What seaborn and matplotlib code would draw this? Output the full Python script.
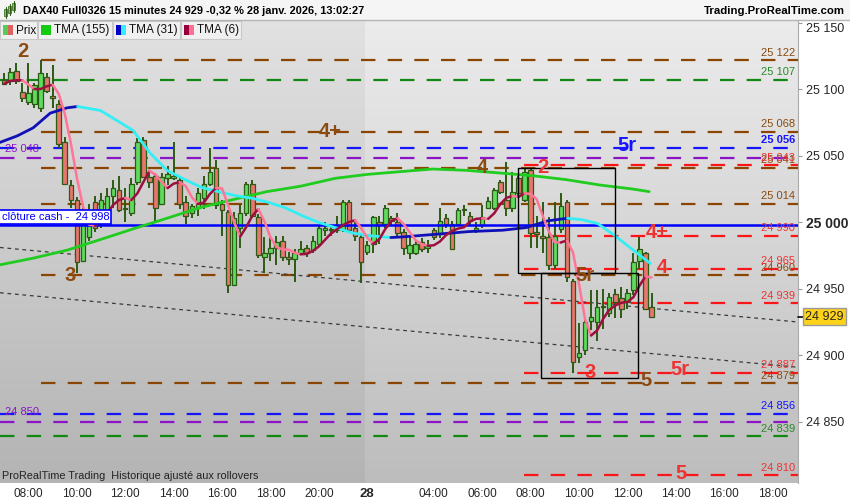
import matplotlib

matplotlib.use("Agg")
import matplotlib.pyplot as plt
import matplotlib.transforms as mtransforms
import numpy as np
import pandas as pd
import seaborn as sns
from matplotlib.patches import Rectangle

# --------------------------------------------------------------------- #
# Data (15 min bars, bar 0 = 08:00 on the 27th)
# --------------------------------------------------------------------- #
FIRST_BAR = -4
OPEN = [25107, 25106, 25114, 25098, 25090, 25089, 25086, 25109, 25095, 25089,
        25060, 25028, 25017, 24971, 24989, 25015, 25000, 25004, 25020, 25024,
        25010, 25007, 25030, 25062, 25034, 25035, 25014, 25033, 25033, 25032,
        25015, 25007, 25011, 25018, 25029, 25041, 25014, 25008, 24953, 24996,
        25007, 25029, 25004, 24974, 24977, 24981, 24986, 24974, 24972, 24977,
        24981, 24979, 24984, 24994, 24995, 24994, 24994, 25015, 24996, 24989,
        24978, 24984, 25000, 24999, 25003, 25000, 24993, 24977, 24977, 24985,
        24981, 24994, 24991, 25003, 24999, 24999, 25009, 25005, 24994, 24998,
        25011, 25011, 25030, 25017, 25011, 25033, 25017, 25039, 24993, 24990,
        24989, 24968, 24995, 25015, 24956, 24899, 24904, 24926, 24925, 24936,
        24932, 24946, 24943, 24940, 24949, 24971, 24977, 24936]
HIGH = [25112, 25116, 25120, 25105, 25120, 25105, 25122, 25112, 25118, 25092,
        25064, 25032, 25019, 25014, 25014, 25020, 25022, 25026, 25032, 25035,
        25026, 25033, 25063, 25064, 25038, 25037, 25037, 25042, 25060, 25035,
        25020, 25014, 25026, 25035, 25056, 25047, 25017, 25009, 25008, 25013,
        25030, 25032, 25006, 24989, 24988, 24990, 24990, 24978, 24980, 24986,
        24983, 24990, 24998, 25000, 24998, 25005, 25017, 25017, 25000, 24992,
        24986, 25005, 25005, 25013, 25005, 25007, 24995, 24990, 24986, 24988,
        24987, 24996, 25011, 25006, 25001, 25011, 25013, 25008, 25000, 25013,
        25019, 25026, 25032, 25045, 25038, 25035, 25041, 25041, 25005, 25015,
        25004, 25015, 25022, 25017, 24957, 24924, 24928, 24949, 24949, 24950,
        24947, 24950, 24951, 24950, 24977, 24989, 24978, 24947]
LOW = [25103, 25103, 25104, 25090, 25088, 25086, 25083, 25097, 25086, 25056,
       25028, 25011, 24962, 24970, 24986, 24993, 24996, 25000, 25011, 25008,
       25000, 25005, 25028, 25033, 25026, 25000, 25013, 25028, 25032, 25010,
       24999, 25003, 25005, 25010, 25027, 25010, 24990, 24947, 24952, 24981,
       25005, 25003, 24973, 24962, 24971, 24968, 24971, 24968, 24955, 24975,
       24974, 24977, 24982, 24990, 24990, 24992, 24993, 24992, 24986, 24954,
       24975, 24977, 24984, 24996, 24998, 24989, 24975, 24972, 24975, 24978,
       24977, 24987, 24988, 24996, 24980, 24997, 25005, 24998, 24992, 24996,
       25010, 25009, 25021, 25005, 25008, 25018, 25015, 24981, 24981, 24977,
       24964, 24965, 24992, 24955, 24887, 24894, 24900, 24919, 24911, 24920,
       24929, 24928, 24928, 24935, 24945, 24965, 24934, 24929]
CLOSE = [25104, 25113, 25106, 25093, 25097, 25103, 25112, 25099, 25093, 25059,
         25029, 25017, 24970, 25002, 25008, 24996, 25017, 25020, 25026, 25009,
         25011, 25029, 25060, 25034, 25030, 25011, 25034, 25036, 25035, 25014,
         25005, 25012, 25022, 25029, 25038, 25013, 25009, 24953, 25003, 25007,
         25029, 25005, 24975, 24977, 24981, 24985, 24974, 24972, 24977, 24980,
         24977, 24986, 24996, 24996, 24994, 24998, 25015, 24994, 24990, 24970,
         24983, 25004, 24998, 25011, 25001, 24992, 24981, 24983, 24984, 24980,
         24982, 24989, 25001, 24999, 24980, 25009, 25009, 25001, 24996, 25004,
         25016, 25024, 25023, 25011, 25023, 25022, 25038, 24992, 24991, 24988,
         24968, 24990, 25012, 24959, 24895, 24902, 24925, 24929, 24936, 24936,
         24944, 24940, 24935, 24947, 24970, 24980, 24935, 24929]

# slow moving averages (bar, price)
TMA155_BAR = [-4.7, 0.8, 6.4, 11.9, 17.3, 22.9, 28.4, 33.8, 39.4, 44.9, 50.7,
              56.1, 61.4, 66.8, 72.4, 77.9, 83.3, 88.9, 94.4, 99.8, 102.6]
TMA155_VAL = [24968, 24973, 24979, 24987, 24995, 25003, 25011, 25017, 25023,
              25027, 25033, 25036, 25038, 25040, 25039, 25037, 25035, 25032,
              25028, 25025, 25023]
TMA31_BAR = [-4.7, -1.8, 0.8, 3.6, 6.4, 8.1, 11.9, 17.3, 20.1, 22.9, 25.9,
             28.7, 31.4, 34.2, 37.0, 39.6, 42.4, 45.2, 47.9, 50.7, 53.5, 56.1,
             59.9, 61.9, 67.5, 72.9, 78.4, 82.3, 85.8, 89.1, 91.4, 94.1, 96.9,
             99.7, 102.8]
TMA31_VAL = [25060, 25065, 25071, 25082, 25086, 25087, 25084, 25069, 25052,
             25039, 25032, 25026, 25023, 25020, 25018, 25015, 25011, 25005,
             25000, 24996, 24992, 24990, 24988.5, 24989, 24991, 24993, 24994,
             24996, 25001, 25003, 25002, 24999, 24990, 24980, 24969]

# horizontal levels
LEVEL_VALUES = [25122, 25068, 25041, 25014, 24960, 24879,
                25107, 24839,
                25056, 24856,
                25048, 24850,
                25043, 24990, 24965, 24939, 24887, 24810]
LEVEL_KIND = ["brown"] * 6 + ["green"] * 2 + ["blue"] * 2 + ["purple"] * 2 + ["red"] * 6
CASH_CLOSE = 24998
LAST_PRICE = 24929

# wave labels
WAVE_TEXT = ["2", "3", "4+", "4", "2", "5r", "4+", "4", "5r", "3", "5", "5r", "5"]
WAVE_BAR = [-1, 6.9, 49.9, 75, 85, 99, 104, 104.8, 92, 92.9, 102, 107.7, 107.9]
WAVE_PRICE = [25128, 24960, 25068, 25041, 25041, 25058, 24992, 24966, 24960,
              24887, 24881, 24889, 24811]
WAVE_KIND = ["brown", "brown", "brown", "brown", "red", "blue", "red", "red",
             "brown", "red", "brown", "red", "red"]

# rectangles (bar0, bar1, top, bottom)
BOX_BAR0 = [80.9, 84.8]
BOX_BAR1 = [97.0, 100.8]
BOX_TOP = [25041, 24962]
BOX_BOTTOM = [24962, 24883]

# dotted trend lines (bar, price) end points
TREND_BARS = [(-4.7, 127.2), (-4.7, 127.2)]
TREND_PRICES = [(24981, 24925), (24947, 24891)]

TICK_BARS = [0, 8, 16, 24, 32, 40, 48, 56, 67, 75, 83, 91, 99, 107, 115, 123]
TICK_LABELS = ["08:00", "10:00", "12:00", "14:00", "16:00", "18:00", "20:00", "28",
               "04:00", "06:00", "08:00", "10:00", "12:00", "14:00", "16:00", "18:00"]
PRICE_TICKS = [24850, 24900, 24950, 25000, 25050, 25100, 25150]

# --------------------------------------------------------------------- #
# Style
# --------------------------------------------------------------------- #
sns.set_style("white")
plt.rcParams["font.family"] = ["Liberation Sans", "DejaVu Sans"]

COLORS = {"brown": "#8a4500", "green": "#118811", "blue": "#1515ff",
          "purple": "#8a14c8", "red": "#ff1515"}
TEXT_COLORS = {"brown": "#8a4a10", "green": "#2a8a2a", "blue": "#1515ff",
               "purple": "#8a14c8", "red": "#ee3333"}
WICK = "#2d5a14"
UP_FILL = "#5fdc5f"
DOWN_FILL = "#e8756e"
XLIM = (-4.7, 127.2)
YLIM = (24804, 25152)
DAY_SPLIT = 55.6


def fmt_price(v):
    return f"{v:,.0f}".replace(",", " ")


fig = plt.figure(figsize=(8.5, 5.0), dpi=100)
fig.patch.set_facecolor("white")
ax = fig.add_axes([0, 17 / 500, 798 / 850, 463 / 500])

# background gradient, previous session slightly darker
grad = np.linspace(0, 1, 256).reshape(-1, 1)
for x0, x1, top, bot in [(XLIM[0], DAY_SPLIT, 0.885, 0.705),
                         (DAY_SPLIT, XLIM[1], 0.925, 0.74)]:
    shade = top + (bot - top) * grad
    ax.imshow(np.dstack([shade] * 3), extent=[x0, x1, YLIM[0], YLIM[1]],
              origin="upper", aspect="auto", zorder=0, interpolation="bilinear")

# horizontal levels
for val, kind in zip(LEVEL_VALUES, LEVEL_KIND):
    start = {"brown": 2.0, "red": 81.9}.get(kind, XLIM[0])
    ax.plot([start, XLIM[1]], [val, val], color=COLORS[kind], lw=1.6,
            dashes=(6.5, 5.5), zorder=2)

# dotted trend lines
for bx, py in zip(TREND_BARS, TREND_PRICES):
    ax.plot(bx, py, color="#3a3a3a", lw=0.9, dashes=(3, 3), zorder=2)

# candles
bars = np.arange(FIRST_BAR, FIRST_BAR + len(CLOSE))
o, h, l, c = (np.array(v, dtype=float) for v in (OPEN, HIGH, LOW, CLOSE))
up = c >= o
ax.vlines(bars, l, h, color=WICK, lw=1.4, zorder=4)
ax.bar(bars, np.maximum(np.abs(c - o), 0.8), bottom=np.minimum(o, c), width=0.74,
       color=np.where(up, UP_FILL, DOWN_FILL), edgecolor=WICK, linewidth=0.9,
       zorder=5)

# close cash line
ax.axhline(CASH_CLOSE, color="#0000ff", lw=1.8, zorder=6)
ax.text(XLIM[0] + 0.25, CASH_CLOSE + 2.2, f"clôture cash -  {fmt_price(CASH_CLOSE)}",
        color="#0000ff", fontsize=8, va="bottom", ha="left", zorder=9,
        bbox=dict(boxstyle="square,pad=0.2", fc="white", ec="#0000ff", lw=1.2))


def draw_colored(xs, ys, up_color, down_color, lw):
    """Plot a curve, colouring rising parts one way and falling parts another."""
    xs = np.asarray(xs, dtype=float)
    ys = np.asarray(ys, dtype=float)
    rising = np.diff(ys) >= 0
    start = 0
    for k in range(1, len(rising) + 1):
        if k == len(rising) or rising[k] != rising[start]:
            seg = pd.DataFrame({"x": xs[start:k + 1], "y": ys[start:k + 1]})
            sns.lineplot(data=seg, x="x", y="y", ax=ax, sort=False, lw=lw,
                         color=up_color if rising[start] else down_color,
                         zorder=7)
            start = k


# moving averages
sns.lineplot(x=TMA155_BAR, y=TMA155_VAL, ax=ax, color="#1fcc1f", lw=2.0, zorder=7)
draw_colored(TMA31_BAR, TMA31_VAL, "#1010b8", "#33eef5", 2.0)
sma3 = pd.Series(c).rolling(3, min_periods=1).mean()
tma6 = sma3.rolling(3, min_periods=1).mean()
draw_colored(bars, tma6.to_numpy(), "#9c0f3f", "#ff7597", 1.8)

# boxes
for b0, b1, top, bot in zip(BOX_BAR0, BOX_BAR1, BOX_TOP, BOX_BOTTOM):
    ax.add_patch(Rectangle((b0, bot), b1 - b0, top - bot, fill=False,
                           ec="black", lw=1.0, zorder=8))

# level labels on the right and left
for val, kind in zip(LEVEL_VALUES, LEVEL_KIND):
    if kind == "purple":
        ax.text(XLIM[0] + 0.8, val + 3.6, fmt_price(val), color=COLORS[kind],
                fontsize=8, ha="left", va="bottom", zorder=9)
        continue
    ax.text(XLIM[1] - 0.5, val + 1.8, fmt_price(val), color=TEXT_COLORS[kind],
            fontsize=8, ha="right", va="bottom", zorder=9,
            fontweight="bold" if kind == "blue" and val > 25000 else "normal")

# wave counts
for txt, bx, py, kind in zip(WAVE_TEXT, WAVE_BAR, WAVE_PRICE, WAVE_KIND):
    ax.text(bx, py, txt, color=TEXT_COLORS[kind], fontsize=14.5, fontweight="bold",
            ha="center", va="center", zorder=10)

# axes
ax.set_xlim(*XLIM)
ax.set_ylim(*YLIM)
ax.set_xlabel("")
ax.set_ylabel("")
ax.yaxis.tick_right()
ax.set_yticks(PRICE_TICKS)
ax.set_yticklabels([fmt_price(v) for v in PRICE_TICKS], fontsize=9)
for lab, v in zip(ax.get_yticklabels(), PRICE_TICKS):
    if v == 25000:
        lab.set_fontweight("bold")
        lab.set_fontsize(10)
    if v == 25150:
        lab.set_verticalalignment("top")
ax.set_xticks(TICK_BARS)
ax.set_xticklabels(TICK_LABELS, fontsize=8.5)
for lab, t in zip(ax.get_xticklabels(), TICK_LABELS):
    if t == "28":
        lab.set_fontweight("bold")
        lab.set_fontsize(9.5)
ax.tick_params(axis="x", length=2.5, width=0.8, color="#999999", pad=1)
ax.tick_params(axis="y", length=3, width=0.8, color="#999999", pad=3)
for side in ["top", "left", "bottom"]:
    ax.spines[side].set_visible(False)
ax.spines["right"].set_color("#aaaaaa")

# last price tag
trans = mtransforms.blended_transform_factory(ax.transAxes, ax.transData)
ax.plot([1.0, 1.008], [LAST_PRICE, LAST_PRICE], transform=trans, color="black",
        lw=1.2, clip_on=False, zorder=11)
ax.text(1.009, LAST_PRICE, fmt_price(LAST_PRICE), transform=trans, fontsize=9,
        va="center", ha="left", zorder=11, clip_on=False,
        bbox=dict(boxstyle="square,pad=0.2", fc="#ffd21a", ec="#9a9a9a", lw=1))
ax.text(0.002, 0.004, "ProRealTime Trading  Historique ajusté aux rollovers",
        transform=ax.transAxes, fontsize=7.8, color="#222222", ha="left",
        va="bottom", zorder=11)

# header and legend strip (pixel overlay)
ov = fig.add_axes([0, 0, 1, 1], zorder=20)
ov.set_xlim(0, 850)
ov.set_ylim(500, 0)
ov.axis("off")
ov.patch.set_alpha(0)
ov.add_patch(Rectangle((0, 0), 850, 20, fc="#f5f5f5", ec="none"))
ov.plot([0, 850], [20, 20], color="#b5b5b5", lw=1)
for x, top, bot in [(6, 9, 16), (10, 6, 13), (14, 3, 10)]:
    ov.plot([x, x], [top - 2, bot + 2], color="#2d5a14", lw=0.8)
    ov.add_patch(Rectangle((x - 1.5, top), 3, bot - top, fc="#66dd55", ec="#2d5a14", lw=0.5))
ov.text(23, 11, "DAX40 Full0326 15 minutes 24 929 -0,32 % 28 janv. 2026, 13:02:27",
        fontsize=7.9, fontweight="bold", va="center", ha="left", color="black")
ov.text(845, 11, "Trading.ProRealTime.com", fontsize=8.2, fontweight="bold",
        va="center", ha="right", color="black")

legend_items = [("Prix", ("#55cc55", "#e06060")), ("TMA (155)", ("#11cc11", "#11cc11")),
                ("TMA (31)", ("#0000cc", "#33eeff")), ("TMA (6)", ("#99003b", "#ff6f91"))]
box_edges = [0, 38, 113, 181, 242]
for (name, (c1, c2)), x0, x1 in zip(legend_items, box_edges[:-1], box_edges[1:]):
    ov.add_patch(Rectangle((x0, 21), x1 - x0 - 1, 18, fc="#f0f0f0", ec="#c8c8c8", lw=0.8))
    ov.add_patch(Rectangle((x0 + 3, 25), 5, 10, fc=c1, ec="none"))
    ov.add_patch(Rectangle((x0 + 8, 25), 5, 10, fc=c2, ec="none"))
    ov.text(x0 + 16, 30.5, name, fontsize=8.5, va="center", ha="left", color="#111111")

fig.savefig("out.png", dpi=100)
